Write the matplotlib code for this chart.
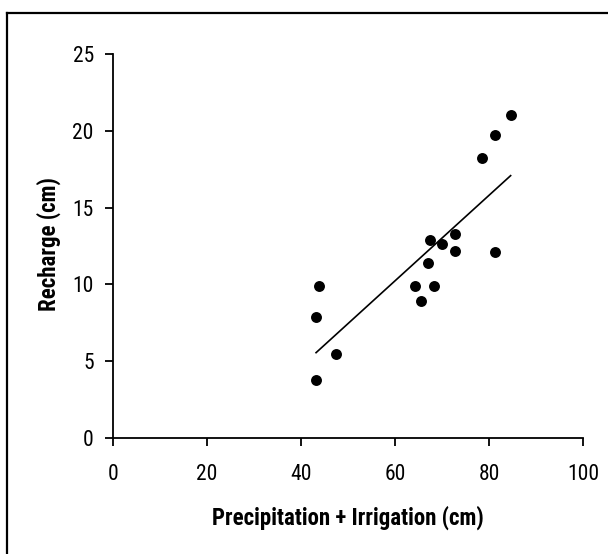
import numpy as np
import matplotlib
matplotlib.use("Agg")
import matplotlib.pyplot as plt
from matplotlib import font_manager
from matplotlib.lines import Line2D

names = {f.name for f in font_manager.fontManager.ttflist}
fam = next((n for n in ("Roboto Condensed", "Archivo Narrow", "PT Sans Narrow", "Liberation Sans") if n in names), "DejaVu Sans")
plt.rcParams["font.family"] = [fam, "DejaVu Sans"]

# Data
precip_irrig = [43.2, 43.9, 43.2, 47.4, 64.3, 65.5, 67.0, 67.4, 68.2, 70.1,
                72.8, 72.8, 78.5, 81.3, 81.3, 84.6]
recharge = [3.8, 9.9, 7.9, 5.5, 9.9, 8.9, 11.4, 12.9, 9.9, 12.6,
            13.3, 12.2, 18.2, 19.7, 12.1, 21.0]
x_ticks = [0, 20, 40, 60, 80, 100]
y_ticks = [0, 5, 10, 15, 20, 25]

fig = plt.figure(figsize=(6.08, 5.54), dpi=100)
ax = fig.add_axes([0.1859, 0.2094, 0.7730, 0.6931])

ax.scatter(precip_irrig, recharge, s=62, color="black", zorder=3, linewidths=0)

xs = np.array(precip_irrig)
ys = np.array(recharge)
m, b = np.polyfit(xs, ys, 1)
xl = np.array([xs.min(), xs.max()])
ax.plot(xl, m * xl + b, color="black", lw=1.2)

ax.set_xlim(0, 100)
ax.set_ylim(0, 25)
ax.set_xticks(x_ticks)
ax.set_yticks(y_ticks)
ax.spines["top"].set_visible(False)
ax.spines["right"].set_visible(False)
for s in ("left", "bottom"):
    ax.spines[s].set_linewidth(1.3)
ax.tick_params(direction="out", length=5.8, width=1.3, labelsize=15.5)
ax.tick_params(axis="x", pad=13)
ax.tick_params(axis="y", pad=8)
ax.set_xlabel("Precipitation + Irrigation (cm)", fontsize=16.5, fontweight="bold", va="center")
ax.set_ylabel("Recharge (cm)", fontsize=16.5, fontweight="bold", va="center")
ax.xaxis.set_label_coords(0.5, -0.208)
ax.yaxis.set_label_coords(-0.136, 0.505)

# outer frame (top and left edges only visible)
fig.add_artist(Line2D([0.0115, 0.0115], [0, 0.976], transform=fig.transFigure, color="black", lw=1.6))
fig.add_artist(Line2D([0.0115, 1.0], [0.976, 0.976], transform=fig.transFigure, color="black", lw=1.6))

fig.savefig("out.png", dpi=100)
